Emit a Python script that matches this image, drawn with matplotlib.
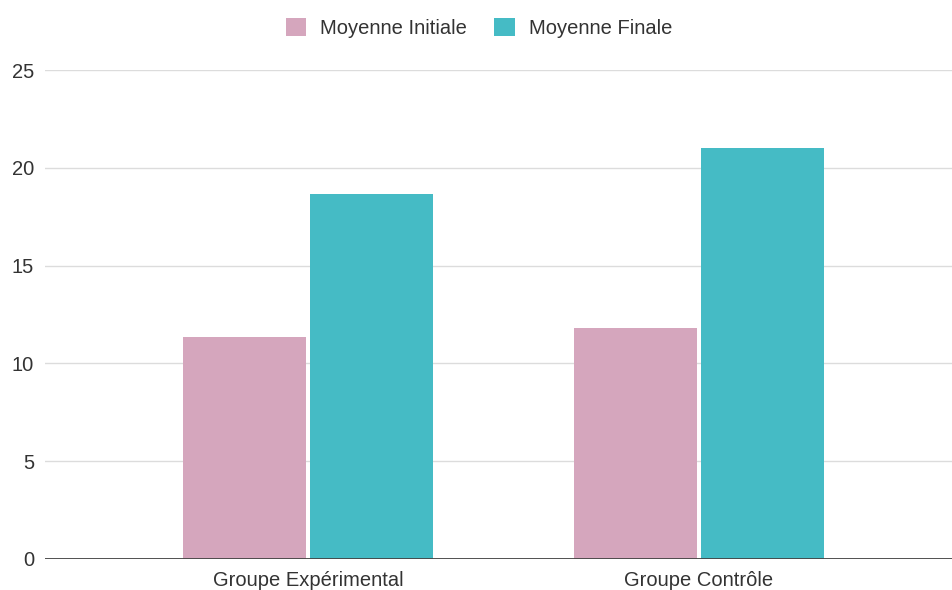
import numpy as np
import matplotlib.pyplot as plt

groups = ['Groupe Expérimental', 'Groupe Contrôle']
moyenne_initiale = [11.35, 11.8]
moyenne_finale = [18.65, 21.0]
series_names = ['Moyenne Initiale', 'Moyenne Finale']
colors = ['#D5A6BD', '#45BBC5']

plt.rcParams['font.family'] = ['Liberation Sans', 'DejaVu Sans']

fig = plt.figure(figsize=(9.53, 5.90), dpi=100)
ax = fig.add_axes([45 / 953, 31 / 590, 1 - 45 / 953, 489 / 590])

x = np.arange(len(groups))
w = 0.315
gap = 0.005
ax.bar(x - w / 2 - gap, moyenne_initiale, w, color=colors[0], label=series_names[0], zorder=3)
ax.bar(x + w / 2 + gap, moyenne_finale, w, color=colors[1], label=series_names[1], zorder=3)

ax.set_xlim(-0.673, 1.65)
ax.set_ylim(0, 25)
ax.set_yticks([0, 5, 10, 15, 20, 25])
ax.set_xticks(x)
ax.set_xticklabels(groups)
ax.tick_params(axis='both', length=0, labelsize=14.5, colors='#333333')
ax.tick_params(axis='y', pad=8)
ax.tick_params(axis='x', pad=9)
ax.grid(axis='y', color='#dcdcdc', linewidth=1, zorder=0)
for s in ax.spines.values():
    s.set_visible(False)
ax.axhline(0, color='#444444', linewidth=1.3, zorder=4)

leg = ax.legend(loc='center', bbox_to_anchor=(0.478, 1.086), ncol=2, frameon=False,
                fontsize=14.5, handlelength=1.0, handleheight=1.0, columnspacing=1.35,
                handletextpad=0.7)
for t in leg.get_texts():
    t.set_color('#333333')

fig.savefig('out.png', dpi=100)
